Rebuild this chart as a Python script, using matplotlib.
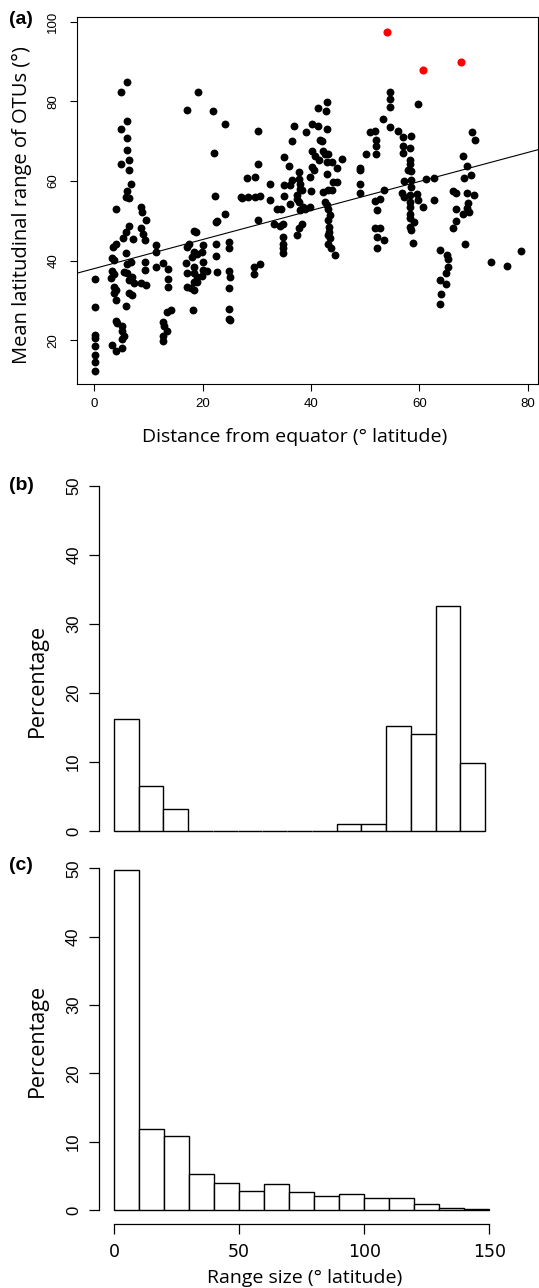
import numpy as np
import matplotlib
matplotlib.use("Agg")
import matplotlib.pyplot as plt

# (a) distance from equator vs mean latitudinal range of OTUs
dist_lat = [
    0.17, 0.17, 0.17, 0.17, 0.17, 0.17, 0.17, 0.17,
    3.55, 3.98, 3.36, 3.67, 3.36, 3.67, 3.06, 3.67, 3.98, 3.67, 3.98, 3.98, 4.29, 3.36, 3.98, 3.98,
    6.13, 4.9, 6.13, 4.9, 6.13, 6.13, 4.9, 6.44, 6.44, 6.75, 6.13, 5.82, 6.44,
    6.44, 5.82, 5.39, 7.24, 5.82, 6.75, 6.13, 5.52, 6.13, 7.05, 6.44, 7.36, 6.44, 7.05, 5.82,
    5.21, 5.21, 5.52, 5.21, 5.21,
    8.59, 8.78, 9.51, 8.59, 8.96, 9.39, 9.39, 9.39, 9.51, 8.59,
    11.42, 11.42, 12.65, 11.42, 13.58, 13.58, 13.58, 13.51, 14.2, 12.65, 12.96, 13.51, 12.65, 12.65,
    17.08, 19.1, 18.43, 18.8, 17.08, 17.57, 18.43, 18.0, 18.93, 20.15, 19.84, 20.15, 20.15, 20.77,
    16.96, 17.08, 18.43, 18.43, 18.93, 19.84, 17.08, 17.82, 18.43, 18.43, 19.05, 18.3,
    22.0, 24.15, 22.12, 22.3, 22.49, 22.74, 24.15, 22.49, 22.49, 22.6,
    24.9, 24.9, 24.8, 25.0, 24.8, 24.9, 24.8, 25.0,
    30.3, 30.3, 28.2, 29.7, 27.0, 27.3, 28.3, 29.7, 30.6, 32.5, 32.5, 30.3, 29.4, 30.5, 29.4,
    33.7, 34.4, 33.1, 34.3, 34.9, 34.9, 34.9, 34.9, 34.9, 35.0, 36.0, 35.0, 36.1, 35.0,
    43.0, 42.8, 41.2, 36.9, 39.1, 40.2, 41.2, 43.0, 36.5, 41.7, 42.0,
    40.2, 40.8, 42.3, 42.6, 43.2, 41.4, 42.9, 43.8, 45.7, 44.7,
    40.2, 40.5, 39.8, 42.9, 44.1, 44.7, 37.7, 37.7, 38.0, 38.0, 38.3, 36.5,
    43.2, 42.3, 43.8, 37.4, 37.4, 37.7, 40.0,
    42.6, 42.9, 43.2, 43.5, 43.2, 43.4, 43.4, 43.2, 43.5, 43.2, 43.6, 44.4,
    38.6, 38.9, 39.8, 38.0, 38.3, 37.7, 37.4, 36.1,
    49.0, 49.0, 49.0, 49.0, 50.2, 50.8,
    54.5, 54.5, 54.5, 59.8, 53.2, 54.5, 51.8, 52.0, 52.0, 52.0,
    56.1, 57.0, 58.4, 57.0, 58.2, 57.0, 58.2, 58.2, 57.8, 58.4,
    57.1, 58.4, 58.4, 56.7, 57.1, 58.2, 59.5, 59.7, 58.2, 58.2, 58.2, 58.2, 58.9, 58.2, 58.4, 58.8,
    61.2, 62.7, 60.6, 62.6, 53.4, 51.8, 52.7, 52.1,
    51.8, 52.7, 52.1, 53.4, 52.2,
    63.8, 65.0, 65.2, 65.2, 64.9, 63.8, 64.9, 63.9, 63.8,
    69.7, 70.2, 68.0, 68.7, 69.5, 68.3,
    66.2, 66.8, 68.7, 70.0, 69.0, 68.7, 69.2, 68.1, 66.7, 66.8, 66.1, 68.4,
    73.2, 76.2, 78.8,
]
mean_range = [
    35.3, 28.4, 21.2, 20.6, 18.5, 16.4, 14.6, 12.25,
    43.5, 44.1, 40.6, 40.2, 37.5, 36.7, 35.6, 33.5, 32.7, 31.8, 30.2, 24.75, 24.3, 18.9, 17.25, 53.1,
    85.0, 82.4, 75.0, 73.0, 70.7, 67.75, 64.2, 65.2, 62.7, 59.2, 57.5, 56.0, 55.8,
    48.75, 47.25, 45.8, 45.4, 41.8, 39.75, 39.2, 37.25, 36.8, 36.0, 35.2, 34.3, 31.8, 31.4, 28.5,
    23.5, 22.25, 21.0, 20.2, 18.1,
    53.5, 52.25, 50.3, 48.1, 46.8, 45.2, 39.75, 37.7, 33.9, 34.3,
    43.9, 42.25, 39.5, 38.3, 37.8, 35.3, 33.25, 27.1, 27.5, 24.5, 23.5, 22.25, 21.0, 19.75,
    77.8, 82.3, 47.5, 47.25, 43.5, 44.2, 42.25, 41.0, 41.6, 43.9, 42.25, 39.75, 37.7, 37.5,
    39.5, 36.8, 38.5, 36.8, 36.0, 36.2, 33.5, 33.1, 32.7, 34.75, 34.75, 27.5,
    77.5, 74.3, 67.0, 56.2, 49.75, 50.0, 51.7, 44.2, 41.2, 37.25,
    44.7, 43.1, 37.3, 35.8, 33.1, 27.8, 25.3, 25.2,
    72.5, 64.2, 60.8, 61.0, 56.0, 55.7, 56.0, 56.0, 56.2, 59.2, 55.2, 50.3, 38.5, 39.2, 36.7,
    52.9, 52.9, 49.3, 48.7, 49.2, 46.0, 44.3, 43.1, 41.8, 66.0, 63.9, 59.0, 59.0, 56.2,
    79.75, 77.5, 78.3, 73.9, 72.25, 74.3, 73.9, 73.1, 70.0, 70.2, 70.0,
    67.5, 66.3, 67.5, 66.8, 66.7, 65.2, 64.75, 64.75, 65.6, 63.3,
    63.5, 62.7, 61.0, 61.7, 59.75, 59.75, 62.25, 60.6, 59.3, 58.1, 57.7, 60.2,
    57.7, 57.25, 57.7, 56.4, 55.6, 54.75, 57.5,
    54.75, 53.9, 53.1, 51.4, 50.2, 48.5, 47.25, 46.4, 45.6, 44.3, 43.1, 41.4,
    53.5, 53.1, 53.5, 52.7, 49.3, 48.1, 46.4, 54.3,
    63.3, 62.7, 59.3, 57.0, 66.8, 72.25,
    82.4, 80.6, 78.5, 79.4, 75.6, 73.5, 72.7, 70.3, 68.7, 66.7,
    72.5, 71.0, 71.4, 68.9, 68.3, 67.0, 65.2, 64.2, 62.7, 62.5,
    60.0, 60.3, 58.5, 57.0, 56.0, 56.4, 56.8, 55.3, 54.75, 53.5, 51.8, 50.6, 49.6, 48.5, 47.8, 44.5,
    60.6, 60.8, 53.5, 55.3, 57.8, 55.0, 55.6, 52.8,
    48.1, 48.3, 46.0, 45.2, 43.3,
    42.7, 41.4, 40.3, 38.5, 36.8, 35.2, 34.2, 31.7, 29.2,
    72.4, 70.3, 66.4, 63.7, 61.4, 60.8,
    57.5, 57.0, 57.0, 56.6, 54.5, 53.3, 52.25, 51.7, 52.9, 50.0, 48.1, 44.2,
    39.7, 38.7, 42.3,
]
# highlighted outliers (red)
outlier_dist = [54.0, 60.6, 67.6]
outlier_range = [97.5, 87.9, 90.0]
# fitted line
fit_intercept = 38.0
fit_slope = 0.365

# (b) and (c) histograms, 10-degree bins
bin_left = np.arange(0, 150, 10)
pct_b = [16.3, 6.5, 3.2, 0, 0, 0, 0, 0, 0, 1.0, 1.0, 15.2, 14.1, 32.6, 9.8]
pct_c = [49.7, 11.8, 10.9, 5.2, 4.0, 2.8, 3.8, 2.7, 2.0, 2.3, 1.7, 1.7, 0.9, 0.3, 0.1]

W, H = 539, 1288
LAB = "Open Sans"
TICK = "Liberation Sans"


def box(l, t, r, b):
    return [l / W, 1 - b / H, (r - l) / W, (b - t) / H]


def rot_yticks(ax, size, pad):
    ax.tick_params(axis="y", labelrotation=90, pad=pad, labelsize=size)
    for lab in ax.get_yticklabels():
        lab.set_va("center")
        lab.set_family(TICK)


fig = plt.figure(figsize=(W / 100, H / 100), dpi=100)

# ---- panel (a)
ax = fig.add_axes(box(77.3, 16.7, 537.7, 384))
ax.scatter(dist_lat, mean_range, s=32, c="black", linewidths=0, zorder=3)
ax.scatter(outlier_dist, outlier_range, s=34, c="red", linewidths=0, zorder=3)
ax.axline((0, fit_intercept), slope=fit_slope, color="black", lw=0.8, zorder=2)
ax.set_xlim(-3.1, 81.8)
ax.set_ylim(9.0, 101.3)
ax.set_xticks([0, 20, 40, 60, 80])
ax.set_yticks([20, 40, 60, 80, 100])
for sp in ax.spines.values():
    sp.set_linewidth(0.8)
ax.tick_params(length=5, width=0.8)
ax.tick_params(axis="x", labelsize=9.5, pad=5)
for lab in ax.get_xticklabels():
    lab.set_family(TICK)
rot_yticks(ax, 9.5, 8)
fig.text(295 / W, 1 - 437 / H, "Distance from equator (° latitude)",
         family=LAB, fontsize=14, ha="center", va="center")
fig.text(22 / W, 1 - 205 / H, "Mean latitudinal range of OTUs (°)",
         family=LAB, fontsize=14.5, ha="center", va="center", rotation=90)
fig.text(9 / W, 1 - 20 / H, "(a)", family=TICK, fontsize=14,
         fontweight="bold", ha="left", va="center")

# ---- panel (b)
axb = fig.add_axes(box(99.2, 472.2, 499.8, 844.8))
axb.bar(bin_left, pct_b, width=10, align="edge", facecolor="white",
        edgecolor="black", linewidth=1.0)
axb.set_xlim(-6, 156)
axb.set_ylim(-2, 52)
axb.set_xticks([])
axb.set_yticks([0, 10, 20, 30, 40, 50])
for k in ["top", "right", "bottom"]:
    axb.spines[k].set_visible(False)
axb.spines["left"].set_bounds(0, 50)
axb.spines["left"].set_linewidth(0.9)
axb.tick_params(axis="y", length=7, width=0.9)
rot_yticks(axb, 12, 6)
fig.text(37 / W, 1 - 680 / H, "Percentage", family=LAB, fontsize=15.5,
         ha="center", va="center", rotation=90)
fig.text(9 / W, 1 - 486 / H, "(b)", family=TICK, fontsize=14,
         fontweight="bold", ha="left", va="center")

# ---- panel (c)
axc = fig.add_axes(box(99, 854.6, 504.3, 1223.7))
axc.bar(bin_left, pct_c, width=10, align="edge", facecolor="white",
        edgecolor="black", linewidth=1.0)
axc.set_xlim(-6, 156)
axc.set_ylim(-2, 52)
axc.set_xticks([0, 50, 100, 150])
axc.set_yticks([0, 10, 20, 30, 40, 50])
for k in ["top", "right"]:
    axc.spines[k].set_visible(False)
axc.spines["left"].set_bounds(0, 50)
axc.spines["bottom"].set_bounds(0, 150)
axc.spines["left"].set_linewidth(0.9)
axc.spines["bottom"].set_linewidth(0.9)
axc.tick_params(length=7, width=0.9)
axc.tick_params(axis="x", labelsize=12.5, pad=7)
for lab in axc.get_xticklabels():
    lab.set_family("DejaVu Sans")
rot_yticks(axc, 12, 6)
fig.text(37 / W, 1 - 1040 / H, "Percentage", family=LAB, fontsize=15.5,
         ha="center", va="center", rotation=90)
fig.text(305 / W, 1 - 1278 / H, "Range size (° latitude)", family=LAB,
         fontsize=14, ha="center", va="center")
fig.text(9 / W, 1 - 866 / H, "(c)", family=TICK, fontsize=14,
         fontweight="bold", ha="left", va="center")

fig.savefig("out.png", dpi=100)
